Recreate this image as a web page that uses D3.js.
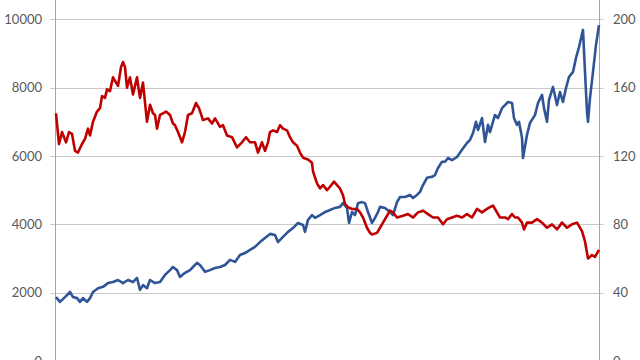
<!DOCTYPE html>
<html>
<head>
<meta charset="utf-8">
<script src="https://cdn.jsdelivr.net/npm/d3@7/dist/d3.min.js"></script>
<style>
  html, body { margin: 0; padding: 0; background: #fff; }
  svg { display: block; }
  text { font-family: Lato, "Liberation Sans", sans-serif; font-size: 13px; fill: #595959; }
</style>
</head>
<body>
<svg id="chart" width="640" height="360"></svg>
<script>
// Left axis ticks (blue series) and right axis ticks (red series)
const leftTicks = [0, 2000, 4000, 6000, 8000, 10000];
const rightTicks = [0, 40, 80, 120, 160, 200];

// Week index since start of the period
const blueWeeks = [0,4,9,14,17,21,24,27,31,34,37,42,47,52,57,62,67,72,77,81,84,87,91,94,99,104,109,114,117,121,124,129,134,137,141,144,149,154,159,164,169,174,179,184,189,194,199,204,209,214,219,222,227,232,237,242,247,249,252,256,259,264,269,274,279,284,287,291,293,296,299,302,306,309,312,316,319,322,324,329,334,337,341,344,349,354,357,361,364,367,371,376,379,382,386,389,392,396,401,406,411,414,417,420,422,426,429,432,434,439,442,446,449,452,456,458,461,463,466,467,471,474,479,482,486,488,491,493,497,501,504,507,510,513,517,520,523,527,529,531,532,534,537,540,543];
const blueValues = [1870,1730,1870,2020,1870,1840,1730,1840,1730,1840,2020,2130,2170,2280,2310,2370,2280,2370,2310,2430,2080,2220,2130,2370,2280,2310,2520,2660,2750,2660,2460,2580,2660,2750,2870,2810,2610,2660,2720,2750,2810,2960,2900,3100,3160,3250,3340,3480,3600,3720,3690,3480,3630,3780,3890,4040,3980,3780,4130,4270,4190,4270,4360,4420,4480,4510,4620,4480,4040,4360,4270,4620,4650,4620,4360,4040,4190,4360,4510,4480,4360,4270,4650,4800,4800,4860,4770,4860,4950,5150,5360,5390,5440,5650,5830,5830,5940,5880,5970,6180,6380,6470,6670,7000,6760,7110,6410,6910,6700,7200,7110,7400,7490,7580,7550,7110,6910,7000,6530,5940,6620,6970,7200,7550,7790,7400,7000,7640,8020,7490,7870,7580,7990,8310,8460,8870,9190,9690,8460,7290,7000,7700,8460,9250,9830];

const redWeeks = [0,3,6,10,13,16,19,22,26,29,32,34,37,41,44,46,49,51,54,57,60,62,65,67,69,71,74,77,81,84,87,91,94,97,99,101,104,107,110,114,117,119,122,126,129,132,136,140,143,147,152,156,159,164,167,171,176,181,186,190,194,199,202,206,209,212,214,217,221,224,227,231,234,237,241,244,247,252,256,257,261,264,267,271,274,278,281,284,287,289,292,296,301,304,307,311,314,316,321,324,327,330,334,337,341,347,352,357,362,367,372,377,382,387,391,396,401,406,411,416,421,426,431,434,437,441,444,449,452,456,459,462,466,468,471,476,481,486,491,496,501,506,511,516,521,526,529,532,536,539,543];
const redValues = [145,127,134,128,134,133,123,122,127,130,136,132,140,146,148,155,154,159,158,166,163,161,172,175,172,160,166,156,166,154,163,140,150,145,144,136,144,145,146,144,139,138,134,128,134,144,145,151,148,141,142,139,142,137,138,132,131,125,128,131,128,128,122,128,123,128,134,135,134,138,136,135,131,128,126,122,119,118,116,111,104,101,103,100,102,105,103,101,97,92,90,89,89,87,84,78,75,74,75,78,81,84,88,87,84,85,86,84,87,88,86,84,84,80,83,84,85,84,86,84,89,87,89,90,91,87,84,84,83,86,84,84,81,77,81,81,83,81,78,80,77,81,78,80,81,76,70,60,62,61,65];

const blue = blueWeeks.map((w, i) => ({ w, v: blueValues[i] }));
const red = redWeeks.map((w, i) => ({ w, v: redValues[i] }));

const svg = d3.select("#chart");
const plotLeft = 55.5, plotRight = 599.5, plotTop = 19.3, plotBottom = 361;

const x = d3.scaleLinear().domain([0, 543]).range([56, 599]);
const yL = d3.scaleLinear().domain([0, 10000]).range([plotBottom, plotTop]);
const yR = d3.scaleLinear().domain([0, 200]).range([plotBottom, plotTop]);

// gridlines (with tick extensions on both sides)
svg.append("g").selectAll("line").data(leftTicks).join("line")
  .attr("x1", plotLeft - 5).attr("x2", plotRight + 4)
  .attr("y1", d => Math.round(yL(d)) + 0.5).attr("y2", d => Math.round(yL(d)) + 0.5)
  .attr("stroke", "#c8c8c8").attr("stroke-width", 1);

// axis lines
svg.append("line").attr("x1", plotLeft).attr("x2", plotLeft).attr("y1", 0).attr("y2", 360)
  .attr("stroke", "#a6a6a6");
svg.append("line").attr("x1", plotRight).attr("x2", plotRight).attr("y1", 0).attr("y2", 360)
  .attr("stroke", "#a6a6a6");

// left labels
svg.append("g").selectAll("text").data(leftTicks).join("text")
  .attr("x", 42).attr("y", d => yL(d)).attr("dy", "0.36em")
  .attr("text-anchor", "end").text(d => d);

// right labels
svg.append("g").selectAll("text").data(rightTicks).join("text")
  .attr("x", 613).attr("y", d => yR(d)).attr("dy", "0.36em")
  .attr("text-anchor", "start").text(d => d);

const lineB = d3.line().x(d => x(d.w)).y(d => yL(d.v));
const lineR = d3.line().x(d => x(d.w)).y(d => yR(d.v));

svg.append("path").datum(blue).attr("d", lineB)
  .attr("fill", "none").attr("stroke", "#2f5597").attr("stroke-width", 2.6)
  .attr("stroke-linejoin", "round");
svg.append("path").datum(red).attr("d", lineR)
  .attr("fill", "none").attr("stroke", "#c00000").attr("stroke-width", 2.6)
  .attr("stroke-linejoin", "round");
</script>
</body>
</html>
